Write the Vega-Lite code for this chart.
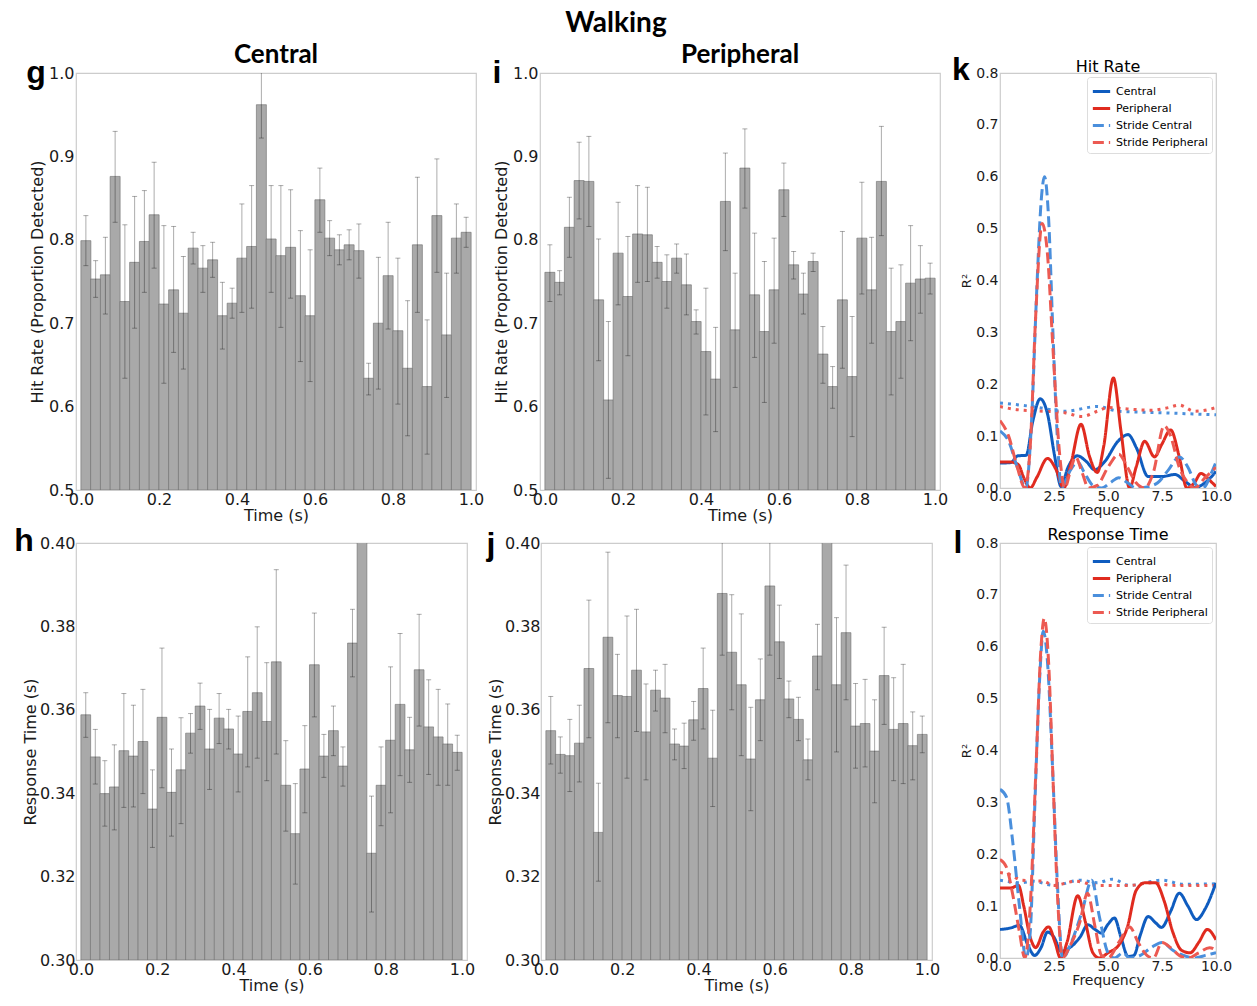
{
"$schema": "https://vega.github.io/schema/vega-lite/v6.json",
"usermeta": {"embedOptions": {"actions": false}},
"background": "white",
"padding": {"left": 13, "top": 10, "right": 0, "bottom": 0},
"title": {"text": "Walking", "font": "Lato", "fontSize": 28, "fontWeight": "bold", "anchor": "middle", "color": "#000", "offset": 3, "dx": -7},
"config": {
  "view": {"stroke": "#cccccc", "strokeWidth": 1.2},
  "axis": {"domain": false, "ticks": false, "grid": false, "labelFont": "DejaVu Sans", "titleFont": "DejaVu Sans", "labelColor": "#1a1a1a", "titleColor": "#1a1a1a", "titleFontWeight": "normal", "labelFlush": false, "labelOverlap": false},
  "title": {"color": "#000"}
},
"resolve": {"scale": {"color": "independent", "strokeDash": "independent"}, "legend": {"color": "independent", "strokeDash": "independent"}},
"datasets": {
"hitC": [
{"t":0.0125,"v":0.799,"lo":0.769,"hi":0.829},{"t":0.0375,"v":0.753,"lo":0.731,"hi":0.775},{"t":0.0625,"v":0.758,"lo":0.711,"hi":0.803},{"t":0.0875,"v":0.876,"lo":0.821,"hi":0.930},{"t":0.1125,"v":0.726,"lo":0.634,"hi":0.818},{"t":0.1375,"v":0.773,"lo":0.694,"hi":0.852},{"t":0.1625,"v":0.798,"lo":0.737,"hi":0.859},{"t":0.1875,"v":0.830,"lo":0.766,"hi":0.893},{"t":0.2125,"v":0.723,"lo":0.628,"hi":0.817},{"t":0.2375,"v":0.740,"lo":0.665,"hi":0.816},
{"t":0.2625,"v":0.712,"lo":0.645,"hi":0.780},{"t":0.2875,"v":0.790,"lo":0.771,"hi":0.809},{"t":0.3125,"v":0.766,"lo":0.737,"hi":0.793},{"t":0.3375,"v":0.776,"lo":0.755,"hi":0.797},{"t":0.3625,"v":0.709,"lo":0.669,"hi":0.749},{"t":0.3875,"v":0.724,"lo":0.706,"hi":0.742},{"t":0.4125,"v":0.778,"lo":0.713,"hi":0.843},{"t":0.4375,"v":0.792,"lo":0.718,"hi":0.865},{"t":0.4625,"v":0.962,"lo":0.922,"hi":1.002},{"t":0.4875,"v":0.801,"lo":0.737,"hi":0.865},
{"t":0.5125,"v":0.781,"lo":0.695,"hi":0.865},{"t":0.5375,"v":0.791,"lo":0.730,"hi":0.860},{"t":0.5625,"v":0.733,"lo":0.654,"hi":0.811},{"t":0.5875,"v":0.709,"lo":0.630,"hi":0.788},{"t":0.6125,"v":0.848,"lo":0.809,"hi":0.886},{"t":0.6375,"v":0.802,"lo":0.781,"hi":0.823},{"t":0.6625,"v":0.788,"lo":0.770,"hi":0.806},{"t":0.6875,"v":0.794,"lo":0.776,"hi":0.812},{"t":0.7125,"v":0.787,"lo":0.754,"hi":0.819},{"t":0.7375,"v":0.634,"lo":0.614,"hi":0.652},
{"t":0.7625,"v":0.700,"lo":0.621,"hi":0.779},{"t":0.7875,"v":0.757,"lo":0.693,"hi":0.821},{"t":0.8125,"v":0.691,"lo":0.603,"hi":0.778},{"t":0.8375,"v":0.646,"lo":0.565,"hi":0.727},{"t":0.8625,"v":0.794,"lo":0.713,"hi":0.875},{"t":0.8875,"v":0.624,"lo":0.543,"hi":0.704},{"t":0.9125,"v":0.829,"lo":0.761,"hi":0.897},{"t":0.9375,"v":0.686,"lo":0.611,"hi":0.760},{"t":0.9625,"v":0.802,"lo":0.760,"hi":0.843},{"t":0.9875,"v":0.809,"lo":0.791,"hi":0.827}
],
"hitP": [
{"t":0.0125,"v":0.761,"lo":0.726,"hi":0.794},{"t":0.0375,"v":0.749,"lo":0.734,"hi":0.763},{"t":0.0625,"v":0.815,"lo":0.779,"hi":0.851},{"t":0.0875,"v":0.871,"lo":0.825,"hi":0.917},{"t":0.1125,"v":0.870,"lo":0.816,"hi":0.924},{"t":0.1375,"v":0.728,"lo":0.655,"hi":0.801},{"t":0.1625,"v":0.608,"lo":0.514,"hi":0.702},{"t":0.1875,"v":0.784,"lo":0.722,"hi":0.845},{"t":0.2125,"v":0.732,"lo":0.661,"hi":0.804},{"t":0.2375,"v":0.807,"lo":0.749,"hi":0.865},
{"t":0.2625,"v":0.806,"lo":0.750,"hi":0.863},{"t":0.2875,"v":0.773,"lo":0.754,"hi":0.792},{"t":0.3125,"v":0.750,"lo":0.718,"hi":0.782},{"t":0.3375,"v":0.778,"lo":0.760,"hi":0.795},{"t":0.3625,"v":0.746,"lo":0.710,"hi":0.783},{"t":0.3875,"v":0.702,"lo":0.687,"hi":0.716},{"t":0.4125,"v":0.666,"lo":0.590,"hi":0.742},{"t":0.4375,"v":0.633,"lo":0.570,"hi":0.695},{"t":0.4625,"v":0.846,"lo":0.787,"hi":0.904},{"t":0.4875,"v":0.692,"lo":0.623,"hi":0.760},
{"t":0.5125,"v":0.886,"lo":0.838,"hi":0.933},{"t":0.5375,"v":0.734,"lo":0.659,"hi":0.808},{"t":0.5625,"v":0.690,"lo":0.605,"hi":0.774},{"t":0.5875,"v":0.740,"lo":0.676,"hi":0.802},{"t":0.6125,"v":0.860,"lo":0.828,"hi":0.892},{"t":0.6375,"v":0.770,"lo":0.753,"hi":0.786},{"t":0.6625,"v":0.735,"lo":0.711,"hi":0.760},{"t":0.6875,"v":0.774,"lo":0.762,"hi":0.784},{"t":0.7125,"v":0.663,"lo":0.628,"hi":0.696},{"t":0.7375,"v":0.624,"lo":0.598,"hi":0.648},
{"t":0.7625,"v":0.728,"lo":0.646,"hi":0.810},{"t":0.7875,"v":0.636,"lo":0.564,"hi":0.708},{"t":0.8125,"v":0.802,"lo":0.735,"hi":0.869},{"t":0.8375,"v":0.740,"lo":0.676,"hi":0.803},{"t":0.8625,"v":0.870,"lo":0.805,"hi":0.936},{"t":0.8875,"v":0.690,"lo":0.614,"hi":0.766},{"t":0.9125,"v":0.702,"lo":0.634,"hi":0.770},{"t":0.9375,"v":0.748,"lo":0.679,"hi":0.817},{"t":0.9625,"v":0.753,"lo":0.712,"hi":0.793},{"t":0.9875,"v":0.754,"lo":0.735,"hi":0.772}
],
"rtC": [
{"t":0.0125,"v":0.3588,"lo":0.3534,"hi":0.3641},{"t":0.0375,"v":0.3487,"lo":0.3422,"hi":0.3553},{"t":0.0625,"v":0.3399,"lo":0.3321,"hi":0.3478},{"t":0.0875,"v":0.3415,"lo":0.3312,"hi":0.3516},{"t":0.1125,"v":0.3502,"lo":0.3366,"hi":0.3639},{"t":0.1375,"v":0.3489,"lo":0.3367,"hi":0.3611},{"t":0.1625,"v":0.3524,"lo":0.3399,"hi":0.3649},{"t":0.1875,"v":0.3362,"lo":0.3270,"hi":0.3456},{"t":0.2125,"v":0.3582,"lo":0.3413,"hi":0.3748},{"t":0.2375,"v":0.3402,"lo":0.3297,"hi":0.3506},
{"t":0.2625,"v":0.3456,"lo":0.3327,"hi":0.3581},{"t":0.2875,"v":0.3544,"lo":0.3496,"hi":0.3591},{"t":0.3125,"v":0.3609,"lo":0.3553,"hi":0.3664},{"t":0.3375,"v":0.3506,"lo":0.3409,"hi":0.3601},{"t":0.3625,"v":0.3580,"lo":0.3519,"hi":0.3639},{"t":0.3875,"v":0.3554,"lo":0.3506,"hi":0.3601},{"t":0.4125,"v":0.3494,"lo":0.3403,"hi":0.3585},{"t":0.4375,"v":0.3596,"lo":0.3463,"hi":0.3727},{"t":0.4625,"v":0.3641,"lo":0.3484,"hi":0.3799},{"t":0.4875,"v":0.3572,"lo":0.3430,"hi":0.3713},
{"t":0.5125,"v":0.3715,"lo":0.3494,"hi":0.3936},{"t":0.5375,"v":0.3419,"lo":0.3309,"hi":0.3526},{"t":0.5625,"v":0.3303,"lo":0.3182,"hi":0.3423},{"t":0.5875,"v":0.3458,"lo":0.3353,"hi":0.3562},{"t":0.6125,"v":0.3708,"lo":0.3583,"hi":0.3832},{"t":0.6375,"v":0.3489,"lo":0.3438,"hi":0.3541},{"t":0.6625,"v":0.3550,"lo":0.3490,"hi":0.3609},{"t":0.6875,"v":0.3465,"lo":0.3417,"hi":0.3511},{"t":0.7125,"v":0.3760,"lo":0.3679,"hi":0.3841},{"t":0.7375,"v":0.4100},
{"t":0.7625,"v":0.3256,"lo":0.3115,"hi":0.3393},{"t":0.7875,"v":0.3419,"lo":0.3322,"hi":0.3511},{"t":0.8125,"v":0.3527,"lo":0.3353,"hi":0.3703},{"t":0.8375,"v":0.3613,"lo":0.3442,"hi":0.3783},{"t":0.8625,"v":0.3504,"lo":0.3426,"hi":0.3582},{"t":0.8875,"v":0.3696,"lo":0.3561,"hi":0.3829},{"t":0.9125,"v":0.3559,"lo":0.3445,"hi":0.3672},{"t":0.9375,"v":0.3535,"lo":0.3419,"hi":0.3649},{"t":0.9625,"v":0.3518,"lo":0.3419,"hi":0.3614},{"t":0.9875,"v":0.3498,"lo":0.3455,"hi":0.3539}
],
"rtP": [
{"t":0.0125,"v":0.3550,"lo":0.3470,"hi":0.3632},{"t":0.0375,"v":0.3493,"lo":0.3448,"hi":0.3535},{"t":0.0625,"v":0.3490,"lo":0.3404,"hi":0.3577},{"t":0.0875,"v":0.3520,"lo":0.3427,"hi":0.3611},{"t":0.1125,"v":0.3699,"lo":0.3533,"hi":0.3863},{"t":0.1375,"v":0.3306,"lo":0.3189,"hi":0.3424},{"t":0.1625,"v":0.3774,"lo":0.3569,"hi":0.3978},{"t":0.1875,"v":0.3634,"lo":0.3533,"hi":0.3733},{"t":0.2125,"v":0.3632,"lo":0.3436,"hi":0.3825},{"t":0.2375,"v":0.3695,"lo":0.3548,"hi":0.3841},
{"t":0.2625,"v":0.3547,"lo":0.3432,"hi":0.3662},{"t":0.2875,"v":0.3647,"lo":0.3597,"hi":0.3695},{"t":0.3125,"v":0.3628,"lo":0.3545,"hi":0.3709},{"t":0.3375,"v":0.3518,"lo":0.3480,"hi":0.3554},{"t":0.3625,"v":0.3513,"lo":0.3459,"hi":0.3568},{"t":0.3875,"v":0.3576,"lo":0.3527,"hi":0.3620},{"t":0.4125,"v":0.3651,"lo":0.3554,"hi":0.3748},{"t":0.4375,"v":0.3484,"lo":0.3368,"hi":0.3599},{"t":0.4625,"v":0.3879,"lo":0.3731,"hi":0.4030},{"t":0.4875,"v":0.3738,"lo":0.3600,"hi":0.3876},
{"t":0.5125,"v":0.3660,"lo":0.3490,"hi":0.3830},{"t":0.5375,"v":0.3482,"lo":0.3358,"hi":0.3606},{"t":0.5625,"v":0.3624,"lo":0.3526,"hi":0.3722},{"t":0.5875,"v":0.3897,"lo":0.3731,"hi":0.4060},{"t":0.6125,"v":0.3763,"lo":0.3675,"hi":0.3851},{"t":0.6375,"v":0.3626,"lo":0.3581,"hi":0.3669},{"t":0.6625,"v":0.3577,"lo":0.3526,"hi":0.3630},{"t":0.6875,"v":0.3480,"lo":0.3432,"hi":0.3530},{"t":0.7125,"v":0.3729,"lo":0.3648,"hi":0.3805},{"t":0.7375,"v":0.4100},
{"t":0.7625,"v":0.3660,"lo":0.3499,"hi":0.3821},{"t":0.7875,"v":0.3785,"lo":0.3624,"hi":0.3947},{"t":0.8125,"v":0.3561,"lo":0.3460,"hi":0.3663},{"t":0.8375,"v":0.3567,"lo":0.3463,"hi":0.3673},{"t":0.8625,"v":0.3501,"lo":0.3377,"hi":0.3624},{"t":0.8875,"v":0.3682,"lo":0.3565,"hi":0.3798},{"t":0.9125,"v":0.3553,"lo":0.3430,"hi":0.3677},{"t":0.9375,"v":0.3567,"lo":0.3423,"hi":0.3709},{"t":0.9625,"v":0.3514,"lo":0.3432,"hi":0.3595},{"t":0.9875,"v":0.3541,"lo":0.3497,"hi":0.3585}
],
"specHR": [
{"s":"Central","f":0,"r":0.048},{"s":"Central","f":0.5,"r":0.049},{"s":"Central","f":0.82,"r":0.062},{"s":"Central","f":1.21,"r":0.063},{"s":"Central","f":1.52,"r":0.129},{"s":"Central","f":1.86,"r":0.172},{"s":"Central","f":2.21,"r":0.141},{"s":"Central","f":2.52,"r":0.064},{"s":"Central","f":2.83,"r":0.003},{"s":"Central","f":3.14,"r":0.039},{"s":"Central","f":3.58,"r":0.062},{"s":"Central","f":4.0,"r":0.051},{"s":"Central","f":4.38,"r":0.035},{"s":"Central","f":4.85,"r":0.051},{"s":"Central","f":5.46,"r":0.09},{"s":"Central","f":5.93,"r":0.103},{"s":"Central","f":6.32,"r":0.077},{"s":"Central","f":6.86,"r":0.022},{"s":"Central","f":7.48,"r":0.022},{"s":"Central","f":8.1,"r":0.026},{"s":"Central","f":8.56,"r":0.013},{"s":"Central","f":9.02,"r":0.001},{"s":"Central","f":9.49,"r":0.01},{"s":"Central","f":10,"r":0.032},
{"s":"Peripheral","f":0,"r":0.05},{"s":"Peripheral","f":0.5,"r":0.05},{"s":"Peripheral","f":0.85,"r":0.045},{"s":"Peripheral","f":1.1,"r":0.02},{"s":"Peripheral","f":1.4,"r":0.0},{"s":"Peripheral","f":1.7,"r":0.02},{"s":"Peripheral","f":2.2,"r":0.057},{"s":"Peripheral","f":2.6,"r":0.035},{"s":"Peripheral","f":2.95,"r":0.0},{"s":"Peripheral","f":3.3,"r":0.05},{"s":"Peripheral","f":3.75,"r":0.123},{"s":"Peripheral","f":4.15,"r":0.06},{"s":"Peripheral","f":4.5,"r":0.03},{"s":"Peripheral","f":4.8,"r":0.08},{"s":"Peripheral","f":5.25,"r":0.212},{"s":"Peripheral","f":5.6,"r":0.11},{"s":"Peripheral","f":6.0,"r":0.0},{"s":"Peripheral","f":6.3,"r":0.04},{"s":"Peripheral","f":6.7,"r":0.09},{"s":"Peripheral","f":7.15,"r":0.06},{"s":"Peripheral","f":7.5,"r":0.085},{"s":"Peripheral","f":7.9,"r":0.112},{"s":"Peripheral","f":8.3,"r":0.06},{"s":"Peripheral","f":8.65,"r":0.0},{"s":"Peripheral","f":9.0,"r":0.01},{"s":"Peripheral","f":9.3,"r":0.028},{"s":"Peripheral","f":9.7,"r":0.015},{"s":"Peripheral","f":10,"r":0.003},
{"s":"Stride Central","f":0,"r":0.11},{"s":"Stride Central","f":0.4,"r":0.09},{"s":"Stride Central","f":0.8,"r":0.04},{"s":"Stride Central","f":1.2,"r":0.0},{"s":"Stride Central","f":1.45,"r":0.12},{"s":"Stride Central","f":1.7,"r":0.38},{"s":"Stride Central","f":1.9,"r":0.55},{"s":"Stride Central","f":2.06,"r":0.6},{"s":"Stride Central","f":2.25,"r":0.52},{"s":"Stride Central","f":2.45,"r":0.3},{"s":"Stride Central","f":2.65,"r":0.1},{"s":"Stride Central","f":2.85,"r":0.0},{"s":"Stride Central","f":3.2,"r":0.03},{"s":"Stride Central","f":3.6,"r":0.05},{"s":"Stride Central","f":3.9,"r":0.03},{"s":"Stride Central","f":4.3,"r":0.005},{"s":"Stride Central","f":4.7,"r":0.0},{"s":"Stride Central","f":5.1,"r":0.01},{"s":"Stride Central","f":5.5,"r":0.02},{"s":"Stride Central","f":5.9,"r":0.01},{"s":"Stride Central","f":6.3,"r":0.0},{"s":"Stride Central","f":6.8,"r":0.002},{"s":"Stride Central","f":7.3,"r":0.01},{"s":"Stride Central","f":7.8,"r":0.035},{"s":"Stride Central","f":8.3,"r":0.06},{"s":"Stride Central","f":8.7,"r":0.04},{"s":"Stride Central","f":9.1,"r":0.005},{"s":"Stride Central","f":9.4,"r":0.0},{"s":"Stride Central","f":9.8,"r":0.03},{"s":"Stride Central","f":10,"r":0.05},
{"s":"Stride Peripheral","f":0,"r":0.13},{"s":"Stride Peripheral","f":0.4,"r":0.1},{"s":"Stride Peripheral","f":0.8,"r":0.04},{"s":"Stride Peripheral","f":1.15,"r":0.0},{"s":"Stride Peripheral","f":1.4,"r":0.08},{"s":"Stride Peripheral","f":1.65,"r":0.33},{"s":"Stride Peripheral","f":1.95,"r":0.51},{"s":"Stride Peripheral","f":2.2,"r":0.45},{"s":"Stride Peripheral","f":2.45,"r":0.27},{"s":"Stride Peripheral","f":2.75,"r":0.07},{"s":"Stride Peripheral","f":3.0,"r":0.0},{"s":"Stride Peripheral","f":3.3,"r":0.04},{"s":"Stride Peripheral","f":3.5,"r":0.06},{"s":"Stride Peripheral","f":3.8,"r":0.03},{"s":"Stride Peripheral","f":4.1,"r":0.0},{"s":"Stride Peripheral","f":4.5,"r":0.005},{"s":"Stride Peripheral","f":5.0,"r":0.04},{"s":"Stride Peripheral","f":5.5,"r":0.065},{"s":"Stride Peripheral","f":5.9,"r":0.04},{"s":"Stride Peripheral","f":6.3,"r":0.01},{"s":"Stride Peripheral","f":6.7,"r":0.0},{"s":"Stride Peripheral","f":7.1,"r":0.03},{"s":"Stride Peripheral","f":7.6,"r":0.12},{"s":"Stride Peripheral","f":7.9,"r":0.1},{"s":"Stride Peripheral","f":8.3,"r":0.04},{"s":"Stride Peripheral","f":8.7,"r":0.01},{"s":"Stride Peripheral","f":9.0,"r":0.0},{"s":"Stride Peripheral","f":9.5,"r":0.02},{"s":"Stride Peripheral","f":10,"r":0.04},
{"s":"Thr Central","f":0,"r":0.164},{"s":"Thr Central","f":1.5,"r":0.157},{"s":"Thr Central","f":3,"r":0.148},{"s":"Thr Central","f":4.5,"r":0.157},{"s":"Thr Central","f":5.5,"r":0.148},{"s":"Thr Central","f":7.5,"r":0.145},{"s":"Thr Central","f":10,"r":0.141},
{"s":"Thr Peripheral","f":0,"r":0.157},{"s":"Thr Peripheral","f":1,"r":0.15},{"s":"Thr Peripheral","f":2,"r":0.148},{"s":"Thr Peripheral","f":3,"r":0.145},{"s":"Thr Peripheral","f":3.8,"r":0.138},{"s":"Thr Peripheral","f":4.5,"r":0.148},{"s":"Thr Peripheral","f":5,"r":0.155},{"s":"Thr Peripheral","f":6,"r":0.152},{"s":"Thr Peripheral","f":7,"r":0.15},{"s":"Thr Peripheral","f":7.8,"r":0.155},{"s":"Thr Peripheral","f":8.3,"r":0.16},{"s":"Thr Peripheral","f":9,"r":0.148},{"s":"Thr Peripheral","f":9.5,"r":0.15},{"s":"Thr Peripheral","f":10,"r":0.155}
],
"specRT": [
{"s":"Central","f":0,"r":0.055},{"s":"Central","f":0.5,"r":0.058},{"s":"Central","f":0.9,"r":0.063},{"s":"Central","f":1.28,"r":0.026},{"s":"Central","f":1.6,"r":0.005},{"s":"Central","f":1.9,"r":0.02},{"s":"Central","f":2.2,"r":0.05},{"s":"Central","f":2.5,"r":0.04},{"s":"Central","f":2.83,"r":0.013},{"s":"Central","f":3.3,"r":0.022},{"s":"Central","f":3.7,"r":0.04},{"s":"Central","f":4.07,"r":0.064},{"s":"Central","f":4.4,"r":0.055},{"s":"Central","f":4.7,"r":0.048},{"s":"Central","f":5.0,"r":0.065},{"s":"Central","f":5.3,"r":0.077},{"s":"Central","f":5.6,"r":0.04},{"s":"Central","f":5.93,"r":0.003},{"s":"Central","f":6.2,"r":0.005},{"s":"Central","f":6.5,"r":0.045},{"s":"Central","f":6.86,"r":0.08},{"s":"Central","f":7.2,"r":0.068},{"s":"Central","f":7.48,"r":0.059},{"s":"Central","f":7.9,"r":0.09},{"s":"Central","f":8.3,"r":0.125},{"s":"Central","f":8.7,"r":0.1},{"s":"Central","f":9.1,"r":0.074},{"s":"Central","f":9.5,"r":0.095},{"s":"Central","f":10,"r":0.145},
{"s":"Peripheral","f":0,"r":0.135},{"s":"Peripheral","f":0.5,"r":0.135},{"s":"Peripheral","f":0.85,"r":0.14},{"s":"Peripheral","f":1.1,"r":0.1},{"s":"Peripheral","f":1.4,"r":0.04},{"s":"Peripheral","f":1.65,"r":0.02},{"s":"Peripheral","f":2.0,"r":0.05},{"s":"Peripheral","f":2.25,"r":0.06},{"s":"Peripheral","f":2.55,"r":0.03},{"s":"Peripheral","f":2.8,"r":0.0},{"s":"Peripheral","f":3.1,"r":0.03},{"s":"Peripheral","f":3.6,"r":0.12},{"s":"Peripheral","f":3.95,"r":0.07},{"s":"Peripheral","f":4.3,"r":0.01},{"s":"Peripheral","f":4.6,"r":0.0},{"s":"Peripheral","f":5.0,"r":0.01},{"s":"Peripheral","f":5.5,"r":0.025},{"s":"Peripheral","f":5.9,"r":0.06},{"s":"Peripheral","f":6.3,"r":0.13},{"s":"Peripheral","f":6.7,"r":0.145},{"s":"Peripheral","f":7.2,"r":0.145},{"s":"Peripheral","f":7.6,"r":0.11},{"s":"Peripheral","f":8.0,"r":0.05},{"s":"Peripheral","f":8.4,"r":0.015},{"s":"Peripheral","f":8.8,"r":0.01},{"s":"Peripheral","f":9.2,"r":0.03},{"s":"Peripheral","f":9.6,"r":0.055},{"s":"Peripheral","f":10,"r":0.035},
{"s":"Stride Central","f":0,"r":0.325},{"s":"Stride Central","f":0.3,"r":0.31},{"s":"Stride Central","f":0.6,"r":0.22},{"s":"Stride Central","f":0.9,"r":0.1},{"s":"Stride Central","f":1.2,"r":0.0},{"s":"Stride Central","f":1.4,"r":0.05},{"s":"Stride Central","f":1.6,"r":0.28},{"s":"Stride Central","f":1.85,"r":0.55},{"s":"Stride Central","f":2.0,"r":0.63},{"s":"Stride Central","f":2.2,"r":0.57},{"s":"Stride Central","f":2.45,"r":0.35},{"s":"Stride Central","f":2.65,"r":0.15},{"s":"Stride Central","f":2.9,"r":0.0},{"s":"Stride Central","f":3.3,"r":0.03},{"s":"Stride Central","f":3.8,"r":0.09},{"s":"Stride Central","f":4.25,"r":0.15},{"s":"Stride Central","f":4.6,"r":0.08},{"s":"Stride Central","f":5.0,"r":0.01},{"s":"Stride Central","f":5.3,"r":0.0},{"s":"Stride Central","f":5.7,"r":0.01},{"s":"Stride Central","f":6.0,"r":0.0},{"s":"Stride Central","f":6.5,"r":0.005},{"s":"Stride Central","f":7.0,"r":0.02},{"s":"Stride Central","f":7.5,"r":0.03},{"s":"Stride Central","f":8.0,"r":0.015},{"s":"Stride Central","f":8.5,"r":0.005},{"s":"Stride Central","f":9.0,"r":0.0},{"s":"Stride Central","f":9.5,"r":0.005},{"s":"Stride Central","f":10,"r":0.01},
{"s":"Stride Peripheral","f":0,"r":0.19},{"s":"Stride Peripheral","f":0.3,"r":0.175},{"s":"Stride Peripheral","f":0.6,"r":0.12},{"s":"Stride Peripheral","f":0.9,"r":0.05},{"s":"Stride Peripheral","f":1.15,"r":0.0},{"s":"Stride Peripheral","f":1.4,"r":0.1},{"s":"Stride Peripheral","f":1.65,"r":0.35},{"s":"Stride Peripheral","f":1.9,"r":0.6},{"s":"Stride Peripheral","f":2.05,"r":0.655},{"s":"Stride Peripheral","f":2.25,"r":0.57},{"s":"Stride Peripheral","f":2.45,"r":0.35},{"s":"Stride Peripheral","f":2.65,"r":0.13},{"s":"Stride Peripheral","f":2.9,"r":0.0},{"s":"Stride Peripheral","f":3.2,"r":0.02},{"s":"Stride Peripheral","f":3.7,"r":0.07},{"s":"Stride Peripheral","f":4.05,"r":0.125},{"s":"Stride Peripheral","f":4.4,"r":0.06},{"s":"Stride Peripheral","f":4.7,"r":0.005},{"s":"Stride Peripheral","f":5.0,"r":0.0},{"s":"Stride Peripheral","f":5.5,"r":0.03},{"s":"Stride Peripheral","f":6.0,"r":0.06},{"s":"Stride Peripheral","f":6.4,"r":0.03},{"s":"Stride Peripheral","f":6.8,"r":0.005},{"s":"Stride Peripheral","f":7.1,"r":0.0},{"s":"Stride Peripheral","f":7.5,"r":0.03},{"s":"Stride Peripheral","f":7.9,"r":0.02},{"s":"Stride Peripheral","f":8.3,"r":0.005},{"s":"Stride Peripheral","f":8.7,"r":0.0},{"s":"Stride Peripheral","f":9.2,"r":0.01},{"s":"Stride Peripheral","f":9.7,"r":0.02},{"s":"Stride Peripheral","f":10,"r":0.015},
{"s":"Thr Central","f":0,"r":0.15},{"s":"Thr Central","f":1,"r":0.145},{"s":"Thr Central","f":1.5,"r":0.148},{"s":"Thr Central","f":2.5,"r":0.14},{"s":"Thr Central","f":3.7,"r":0.15},{"s":"Thr Central","f":4.5,"r":0.145},{"s":"Thr Central","f":5.2,"r":0.152},{"s":"Thr Central","f":6,"r":0.14},{"s":"Thr Central","f":7.5,"r":0.15},{"s":"Thr Central","f":8.5,"r":0.142},{"s":"Thr Central","f":10,"r":0.143},
{"s":"Thr Peripheral","f":0,"r":0.165},{"s":"Thr Peripheral","f":0.5,"r":0.16},{"s":"Thr Peripheral","f":1,"r":0.15},{"s":"Thr Peripheral","f":2,"r":0.148},{"s":"Thr Peripheral","f":2.5,"r":0.14},{"s":"Thr Peripheral","f":3.5,"r":0.148},{"s":"Thr Peripheral","f":4.5,"r":0.14},{"s":"Thr Peripheral","f":6,"r":0.14},{"s":"Thr Peripheral","f":7,"r":0.145},{"s":"Thr Peripheral","f":8,"r":0.14},{"s":"Thr Peripheral","f":10,"r":0.14}
]
},
"spacing": 0,
"vconcat": [
{"hconcat": [
 {"hconcat": [
 {"width": 400, "height": 417,
  "title": {"text": "Central", "font": "Lato", "fontSize": 26, "fontWeight": "bold", "offset": -11},
  "data": {"name": "hitC"},
  "layer": [
   {"mark": {"type": "bar", "width": 10, "fill": "#a9a9a9", "stroke": "#6b6b6b", "strokeWidth": 0.6, "clip": true},
    "encoding": {
     "x": {"field": "t", "type": "quantitative", "scale": {"domain": [0, 1], "nice": false}, "title": "Time (s)", "axis": {"values": [0, 0.2, 0.4, 0.6, 0.8, 1], "format": ".1f", "labelFontSize": 16, "titleFontSize": 16, "labelPadding": 1, "titlePadding": 0}},
     "y": {"field": "v", "type": "quantitative", "scale": {"domain": [0.5, 1.0], "nice": false, "zero": false}, "title": "Hit Rate (Proportion Detected)", "axis": {"values": [0.5, 0.6, 0.7, 0.8, 0.9, 1.0], "format": ".1f", "labelFontSize": 16, "titleFontSize": 16, "labelPadding": 2, "titlePadding": 3}},
     "y2": {"datum": 0.5}}},
   {"mark": {"type": "rule", "color": "#000", "opacity": 0.33, "clip": true},
    "encoding": {"x": {"field": "t", "type": "quantitative", "title": "Time (s)"}, "y": {"field": "lo", "type": "quantitative", "title": "Hit Rate (Proportion Detected)"}, "y2": {"field": "hi"}}},
   {"mark": {"type": "tick", "orient": "horizontal", "size": 5, "thickness": 1, "color": "#000", "opacity": 0.33, "clip": true},
    "encoding": {"x": {"field": "t", "type": "quantitative", "title": "Time (s)"}, "y": {"field": "hi", "type": "quantitative", "title": "Hit Rate (Proportion Detected)"}}},
   {"mark": {"type": "tick", "orient": "horizontal", "size": 5, "thickness": 1, "color": "#000", "opacity": 0.33, "clip": true},
    "encoding": {"x": {"field": "t", "type": "quantitative", "title": "Time (s)"}, "y": {"field": "lo", "type": "quantitative", "title": "Hit Rate (Proportion Detected)"}}},
   {"data": {"values": [{"k": "g"}]},
    "mark": {"type": "text", "font": "Liberation Sans", "fontSize": 32, "fontWeight": "bold", "dx": -45, "dy": 0, "align": "center", "baseline": "middle", "color": "#000"},
    "encoding": {"text": {"field": "k"}, "x": {"datum": 0}, "y": {"datum": 1.0}}}
  ]},
 {"width": 400, "height": 417,
  "title": {"text": "Peripheral", "font": "Lato", "fontSize": 26, "fontWeight": "bold", "offset": -11},
  "data": {"name": "hitP"},
  "layer": [
   {"mark": {"type": "bar", "width": 10, "fill": "#a9a9a9", "stroke": "#6b6b6b", "strokeWidth": 0.6, "clip": true},
    "encoding": {
     "x": {"field": "t", "type": "quantitative", "scale": {"domain": [0, 1], "nice": false}, "title": "Time (s)", "axis": {"values": [0, 0.2, 0.4, 0.6, 0.8, 1], "format": ".1f", "labelFontSize": 16, "titleFontSize": 16, "labelPadding": 1, "titlePadding": 0}},
     "y": {"field": "v", "type": "quantitative", "scale": {"domain": [0.5, 1.0], "nice": false, "zero": false}, "title": "Hit Rate (Proportion Detected)", "axis": {"values": [0.5, 0.6, 0.7, 0.8, 0.9, 1.0], "format": ".1f", "labelFontSize": 16, "titleFontSize": 16, "labelPadding": 2, "titlePadding": 3}},
     "y2": {"datum": 0.5}}},
   {"mark": {"type": "rule", "color": "#000", "opacity": 0.33, "clip": true},
    "encoding": {"x": {"field": "t", "type": "quantitative", "title": "Time (s)"}, "y": {"field": "lo", "type": "quantitative", "title": "Hit Rate (Proportion Detected)"}, "y2": {"field": "hi"}}},
   {"mark": {"type": "tick", "orient": "horizontal", "size": 5, "thickness": 1, "color": "#000", "opacity": 0.33, "clip": true},
    "encoding": {"x": {"field": "t", "type": "quantitative", "title": "Time (s)"}, "y": {"field": "hi", "type": "quantitative", "title": "Hit Rate (Proportion Detected)"}}},
   {"mark": {"type": "tick", "orient": "horizontal", "size": 5, "thickness": 1, "color": "#000", "opacity": 0.33, "clip": true},
    "encoding": {"x": {"field": "t", "type": "quantitative", "title": "Time (s)"}, "y": {"field": "lo", "type": "quantitative", "title": "Hit Rate (Proportion Detected)"}}},
   {"data": {"values": [{"k": "i"}]},
    "mark": {"type": "text", "font": "Liberation Sans", "fontSize": 32, "fontWeight": "bold", "dx": -48, "dy": 0, "align": "center", "baseline": "middle", "color": "#000"},
    "encoding": {"text": {"field": "k"}, "x": {"datum": 0}, "y": {"datum": 1.0}}}
  ]}
 ], "spacing": 6},
 {"width": 216, "height": 415,
  "title": {"text": "Hit Rate", "font": "DejaVu Sans", "fontSize": 16, "fontWeight": "normal", "offset": -21},
  "data": {"name": "specHR"},
  "resolve": {"scale": {"color": "independent", "strokeDash": "independent"}},
  "layer": [
   {"transform": [{"filter": "datum.s == 'Thr Central'"}],
    "mark": {"type": "line", "strokeWidth": 3, "strokeDash": [3, 5], "color": "#4a8fdc", "interpolate": "monotone", "clip": true},
    "encoding": {"x": {"field": "f", "type": "quantitative", "title": "Frequency"}, "y": {"field": "r", "type": "quantitative", "title": "R²"}}},
   {"transform": [{"filter": "datum.s == 'Thr Peripheral'"}],
    "mark": {"type": "line", "strokeWidth": 3, "strokeDash": [3, 5], "color": "#ec5a52", "interpolate": "monotone", "clip": true},
    "encoding": {"x": {"field": "f", "type": "quantitative", "title": "Frequency"}, "y": {"field": "r", "type": "quantitative", "title": "R²"}}},
   {"transform": [{"filter": "indexof(['Central','Peripheral','Stride Central','Stride Peripheral'], datum.s) >= 0"}],
    "mark": {"type": "line", "strokeWidth": 3, "interpolate": "monotone", "clip": true},
    "encoding": {
     "x": {"field": "f", "type": "quantitative", "scale": {"domain": [0, 10], "nice": false}, "title": "Frequency", "axis": {"values": [0, 2.5, 5, 7.5, 10], "format": ".1f", "labelFontSize": 14, "titleFontSize": 14, "labelPadding": 1, "titlePadding": 0}},
     "y": {"field": "r", "type": "quantitative", "scale": {"domain": [0, 0.8], "nice": false}, "title": "R²", "axis": {"values": [0, 0.1, 0.2, 0.3, 0.4, 0.5, 0.6, 0.7, 0.8], "format": ".1f", "labelFontSize": 14, "titleFontSize": 13, "labelPadding": 2, "titlePadding": 2}},
     "color": {"field": "s", "type": "nominal", "scale": {"domain": ["Central", "Peripheral", "Stride Central", "Stride Peripheral"], "range": ["#0f5cbf", "#e02b1f", "#4a8fdc", "#ec5a52"]}, "legend": {"title": null, "orient": "top-right", "offset": 4, "fillColor": "white", "strokeColor": "#dddddd", "padding": 4, "cornerRadius": 3, "labelFont": "DejaVu Sans", "labelFontSize": 11, "symbolType": "stroke", "symbolStrokeWidth": 3, "symbolSize": 300, "rowPadding": 0}},
     "strokeDash": {"field": "s", "type": "nominal", "scale": {"domain": ["Central", "Peripheral", "Stride Central", "Stride Peripheral"], "range": [[1, 0], [1, 0], [11, 5], [11, 5]]}, "legend": {"title": null, "orient": "top-right", "offset": 4, "fillColor": "white", "strokeColor": "#dddddd", "padding": 4, "cornerRadius": 3, "labelFont": "DejaVu Sans", "labelFontSize": 11, "symbolType": "stroke", "symbolStrokeWidth": 3, "symbolSize": 300, "rowPadding": 0}}}},
   {"data": {"values": [{"k": "k"}]},
    "mark": {"type": "text", "font": "Liberation Sans", "fontSize": 32, "fontWeight": "bold", "dx": -39, "dy": -3, "align": "center", "baseline": "middle", "color": "#000"},
    "encoding": {"text": {"field": "k"}, "x": {"datum": 0}, "y": {"datum": 0.8}}}
  ]}
], "spacing": 2, "resolve": {"scale": {"color": "independent", "strokeDash": "independent"}, "legend": {"color": "independent", "strokeDash": "independent"}}},
{"hconcat": [
 {"hconcat": [
 {"width": 391, "height": 417,
  "data": {"name": "rtC"},
  "layer": [
   {"mark": {"type": "bar", "width": 9.78, "fill": "#a9a9a9", "stroke": "#6b6b6b", "strokeWidth": 0.6, "clip": true},
    "encoding": {
     "x": {"field": "t", "type": "quantitative", "scale": {"domain": [0, 1], "nice": false}, "title": "Time (s)", "axis": {"values": [0, 0.2, 0.4, 0.6, 0.8, 1], "format": ".1f", "labelFontSize": 16, "titleFontSize": 16, "labelPadding": 1, "titlePadding": 0}},
     "y": {"field": "v", "type": "quantitative", "scale": {"domain": [0.3, 0.4], "nice": false, "zero": false}, "title": "Response Time (s)", "axis": {"values": [0.30, 0.32, 0.34, 0.36, 0.38, 0.40], "format": ".2f", "labelFontSize": 16, "titleFontSize": 16, "labelPadding": 1, "titlePadding": 1}},
     "y2": {"datum": 0.3}}},
   {"mark": {"type": "rule", "color": "#000", "opacity": 0.33, "clip": true},
    "encoding": {"x": {"field": "t", "type": "quantitative", "title": "Time (s)"}, "y": {"field": "lo", "type": "quantitative", "title": "Response Time (s)"}, "y2": {"field": "hi"}}},
   {"mark": {"type": "tick", "orient": "horizontal", "size": 5, "thickness": 1, "color": "#000", "opacity": 0.33, "clip": true},
    "encoding": {"x": {"field": "t", "type": "quantitative", "title": "Time (s)"}, "y": {"field": "hi", "type": "quantitative", "title": "Response Time (s)"}}},
   {"mark": {"type": "tick", "orient": "horizontal", "size": 5, "thickness": 1, "color": "#000", "opacity": 0.33, "clip": true},
    "encoding": {"x": {"field": "t", "type": "quantitative", "title": "Time (s)"}, "y": {"field": "lo", "type": "quantitative", "title": "Response Time (s)"}}},
   {"data": {"values": [{"k": "h"}]},
    "mark": {"type": "text", "font": "Liberation Sans", "fontSize": 32, "fontWeight": "bold", "dx": -57, "dy": -2, "align": "center", "baseline": "middle", "color": "#000"},
    "encoding": {"text": {"field": "k"}, "x": {"datum": 0}, "y": {"datum": 0.4}}}
  ]},
 {"width": 391, "height": 417,
  "data": {"name": "rtP"},
  "layer": [
   {"mark": {"type": "bar", "width": 9.78, "fill": "#a9a9a9", "stroke": "#6b6b6b", "strokeWidth": 0.6, "clip": true},
    "encoding": {
     "x": {"field": "t", "type": "quantitative", "scale": {"domain": [0, 1], "nice": false}, "title": "Time (s)", "axis": {"values": [0, 0.2, 0.4, 0.6, 0.8, 1], "format": ".1f", "labelFontSize": 16, "titleFontSize": 16, "labelPadding": 1, "titlePadding": 0}},
     "y": {"field": "v", "type": "quantitative", "scale": {"domain": [0.3, 0.4], "nice": false, "zero": false}, "title": "Response Time (s)", "axis": {"values": [0.30, 0.32, 0.34, 0.36, 0.38, 0.40], "format": ".2f", "labelFontSize": 16, "titleFontSize": 16, "labelPadding": 1, "titlePadding": 1}},
     "y2": {"datum": 0.3}}},
   {"mark": {"type": "rule", "color": "#000", "opacity": 0.33, "clip": true},
    "encoding": {"x": {"field": "t", "type": "quantitative", "title": "Time (s)"}, "y": {"field": "lo", "type": "quantitative", "title": "Response Time (s)"}, "y2": {"field": "hi"}}},
   {"mark": {"type": "tick", "orient": "horizontal", "size": 5, "thickness": 1, "color": "#000", "opacity": 0.33, "clip": true},
    "encoding": {"x": {"field": "t", "type": "quantitative", "title": "Time (s)"}, "y": {"field": "hi", "type": "quantitative", "title": "Response Time (s)"}}},
   {"mark": {"type": "tick", "orient": "horizontal", "size": 5, "thickness": 1, "color": "#000", "opacity": 0.33, "clip": true},
    "encoding": {"x": {"field": "t", "type": "quantitative", "title": "Time (s)"}, "y": {"field": "lo", "type": "quantitative", "title": "Response Time (s)"}}},
   {"data": {"values": [{"k": "j"}]},
    "mark": {"type": "text", "font": "Liberation Sans", "fontSize": 32, "fontWeight": "bold", "dx": -55, "dy": 2, "align": "center", "baseline": "middle", "color": "#000"},
    "encoding": {"text": {"field": "k"}, "x": {"datum": 0}, "y": {"datum": 0.4}}}
  ]}
 ], "spacing": 9},
 {"width": 216, "height": 415,
  "title": {"text": "Response Time", "font": "DejaVu Sans", "fontSize": 16, "fontWeight": "normal", "offset": -16},
  "data": {"name": "specRT"},
  "resolve": {"scale": {"color": "independent", "strokeDash": "independent"}},
  "layer": [
   {"transform": [{"filter": "datum.s == 'Thr Central'"}],
    "mark": {"type": "line", "strokeWidth": 3, "strokeDash": [3, 5], "color": "#4a8fdc", "interpolate": "monotone", "clip": true},
    "encoding": {"x": {"field": "f", "type": "quantitative", "title": "Frequency"}, "y": {"field": "r", "type": "quantitative", "title": "R²"}}},
   {"transform": [{"filter": "datum.s == 'Thr Peripheral'"}],
    "mark": {"type": "line", "strokeWidth": 3, "strokeDash": [3, 5], "color": "#ec5a52", "interpolate": "monotone", "clip": true},
    "encoding": {"x": {"field": "f", "type": "quantitative", "title": "Frequency"}, "y": {"field": "r", "type": "quantitative", "title": "R²"}}},
   {"transform": [{"filter": "indexof(['Central','Peripheral','Stride Central','Stride Peripheral'], datum.s) >= 0"}],
    "mark": {"type": "line", "strokeWidth": 3, "interpolate": "monotone", "clip": true},
    "encoding": {
     "x": {"field": "f", "type": "quantitative", "scale": {"domain": [0, 10], "nice": false}, "title": "Frequency", "axis": {"values": [0, 2.5, 5, 7.5, 10], "format": ".1f", "labelFontSize": 14, "titleFontSize": 14, "labelPadding": 1, "titlePadding": 0}},
     "y": {"field": "r", "type": "quantitative", "scale": {"domain": [0, 0.8], "nice": false}, "title": "R²", "axis": {"values": [0, 0.1, 0.2, 0.3, 0.4, 0.5, 0.6, 0.7, 0.8], "format": ".1f", "labelFontSize": 14, "titleFontSize": 13, "labelPadding": 2, "titlePadding": 2}},
     "color": {"field": "s", "type": "nominal", "scale": {"domain": ["Central", "Peripheral", "Stride Central", "Stride Peripheral"], "range": ["#0f5cbf", "#e02b1f", "#4a8fdc", "#ec5a52"]}, "legend": {"title": null, "orient": "top-right", "offset": 4, "fillColor": "white", "strokeColor": "#dddddd", "padding": 4, "cornerRadius": 3, "labelFont": "DejaVu Sans", "labelFontSize": 11, "symbolType": "stroke", "symbolStrokeWidth": 3, "symbolSize": 300, "rowPadding": 0}},
     "strokeDash": {"field": "s", "type": "nominal", "scale": {"domain": ["Central", "Peripheral", "Stride Central", "Stride Peripheral"], "range": [[1, 0], [1, 0], [11, 5], [11, 5]]}, "legend": {"title": null, "orient": "top-right", "offset": 4, "fillColor": "white", "strokeColor": "#dddddd", "padding": 4, "cornerRadius": 3, "labelFont": "DejaVu Sans", "labelFontSize": 11, "symbolType": "stroke", "symbolStrokeWidth": 3, "symbolSize": 300, "rowPadding": 0}}}},
   {"data": {"values": [{"k": "l"}]},
    "mark": {"type": "text", "font": "Liberation Sans", "fontSize": 32, "fontWeight": "bold", "dx": -42, "dy": 0, "align": "center", "baseline": "middle", "color": "#000"},
    "encoding": {"text": {"field": "k"}, "x": {"datum": 0}, "y": {"datum": 0.8}}}
  ]}
], "spacing": 11, "resolve": {"scale": {"color": "independent", "strokeDash": "independent"}, "legend": {"color": "independent", "strokeDash": "independent"}}}
]
}
